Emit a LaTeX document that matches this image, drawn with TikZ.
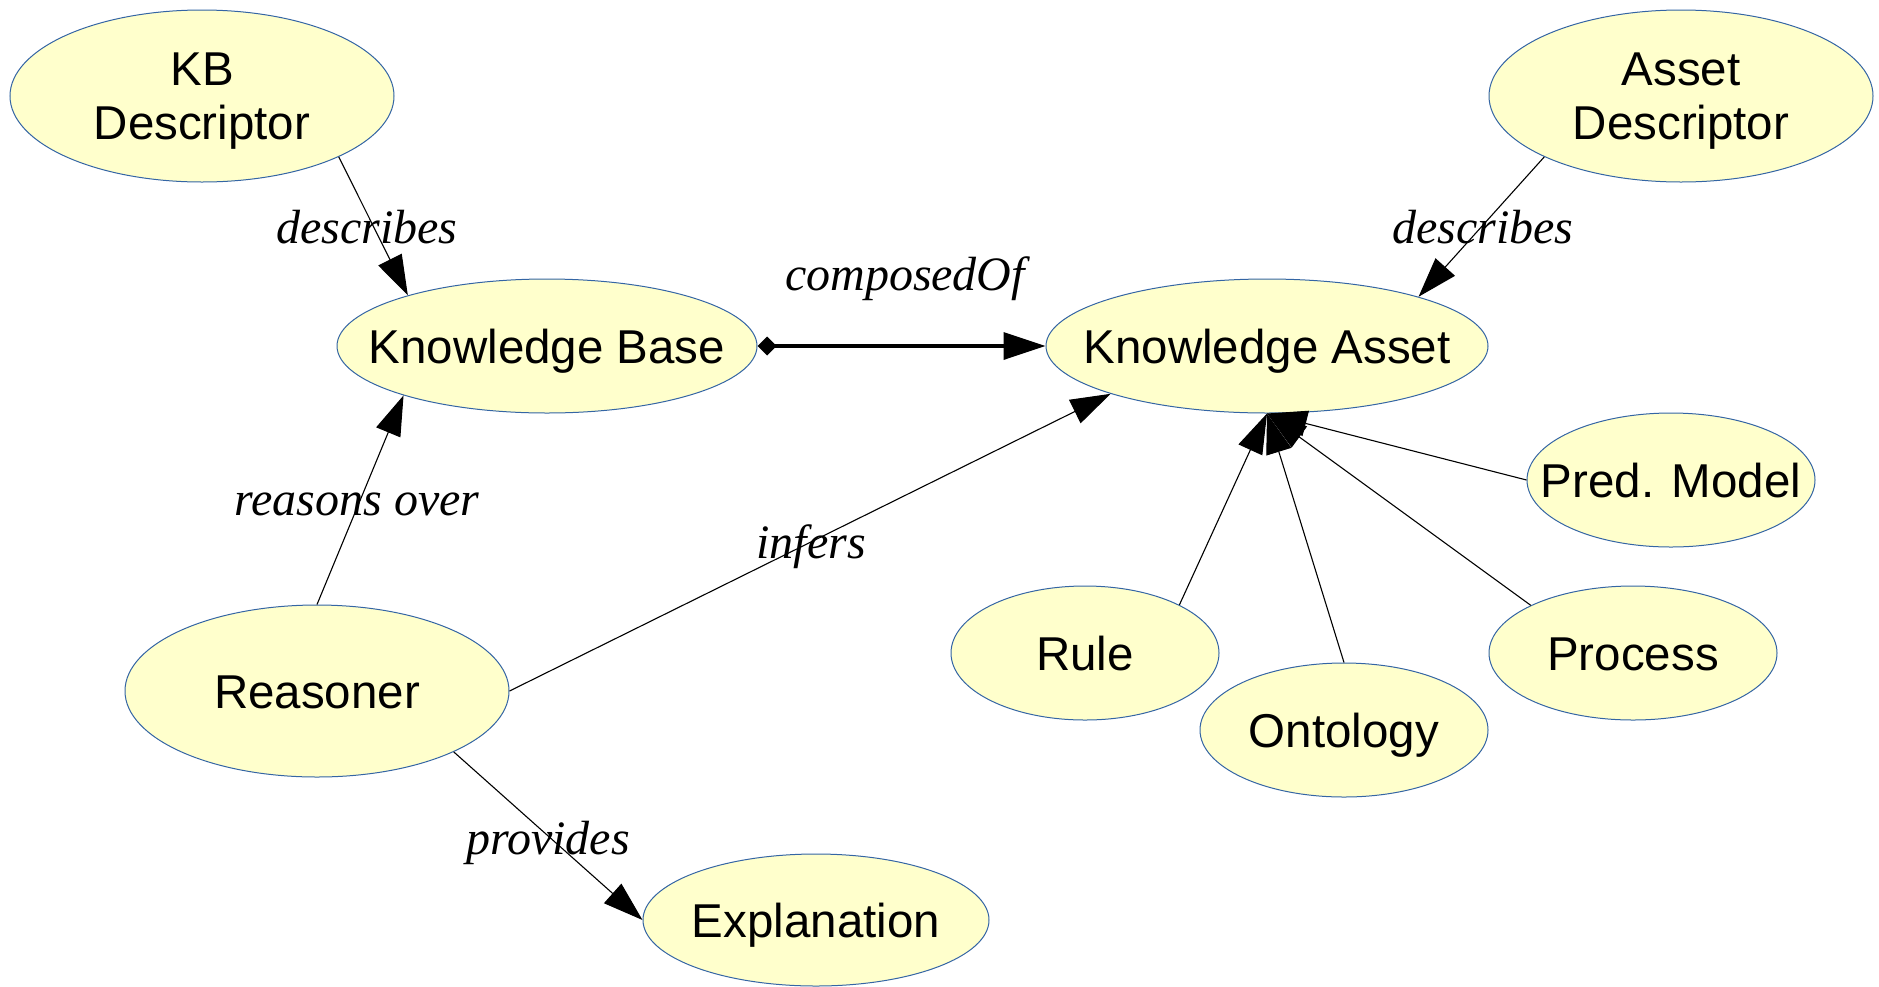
\documentclass[tikz,border=0pt]{standalone}
\usepackage{fontspec}
\setmainfont{Liberation Serif}
\setsansfont{Liberation Sans}
\usetikzlibrary{shapes.geometric,arrows.meta}
\definecolor{entfill}{HTML}{FFFFCC}
\definecolor{entline}{HTML}{3465A4}
\newcommand{\oneline}[1]{\makebox[0pt][c]{#1}}
\begin{document}
\begin{tikzpicture}[x=1pt,y=-1pt,
  ent/.style={ellipse, draw=entline, line width=1pt, fill=entfill, inner sep=0pt,
    font=\sffamily\fontsize{47.5}{54}\selectfont, align=center},
  two/.style={ent, text depth=0pt},
  one/.style={ent, text height=34pt, text depth=0pt},
  rel/.style={font=\itshape\fontsize{48}{56}\selectfont, anchor=base, inner sep=0pt},
  link/.style={line width=1.1pt, -{Triangle[length=40pt,width=26pt]}},
]
\useasboundingbox (0,0) rectangle (1879,986);

% entities
\node[two, minimum width=384pt, minimum height=172pt] (kbd) at (202,96) {KB\\Descriptor};
\node[two, minimum width=384pt, minimum height=172pt] (ad) at (1681,96) {Asset\\Descriptor};
\node[one, minimum width=420pt, minimum height=134pt] (kb) at (547,346) {\oneline{Knowledge Base}};
\node[one, minimum width=442pt, minimum height=134pt] (ka) at (1267,346) {\oneline{Knowledge Asset}};
\node[one, minimum width=288pt, minimum height=134pt] (pm) at (1671,480) {\oneline{Pred. Model}};
\node[one, minimum width=268pt, minimum height=134pt] (rule) at (1085,653) {\oneline{Rule}};
\node[one, minimum width=288pt, minimum height=134pt] (onto) at (1344,730) {\oneline{Ontology}};
\node[one, minimum width=288pt, minimum height=134pt] (proc) at (1633,653) {\oneline{Process}};
\node[one, minimum width=384pt, minimum height=172pt] (reas) at (317,691) {\oneline{Reasoner}};
\node[one, minimum width=346pt, minimum height=132pt] (expl) at (816,920) {\oneline{Explanation}};

% relations
\draw[link] (kbd.-24) -- (kb.160);
\draw[link] (ad.204) -- (ka.18);
\draw[line width=3.5pt, {Diamond[length=19pt,width=19pt]}-{Triangle[length=42pt,width=27pt]}] (kb) -- (ka);
\draw[link] (reas.north) -- (kb.199);
\draw[link] (reas.east) -- (ka.197);
\draw[link] (reas.-24) -- (expl.west);
\draw[link] (rule.27) -- (ka.south);
\draw[link] (onto.north) -- (ka.south);
\draw[link] (proc.155) -- (ka.south);
\draw[link] (pm.west) -- (ka.south);

% relation labels
\node[rel] (ldesc1) at (367,243) {describes};
\node[rel] (ldesc2) at (1483,243) {describes};
\node[rel] (lcomp) at (905,290) {composedOf};
\node[rel] (lreas) at (357,515) {reasons over};
\node[rel] (linf) at (811,558) {infers};
\node[rel] (lprov) at (548,854) {provides};
\end{tikzpicture}
\end{document}
